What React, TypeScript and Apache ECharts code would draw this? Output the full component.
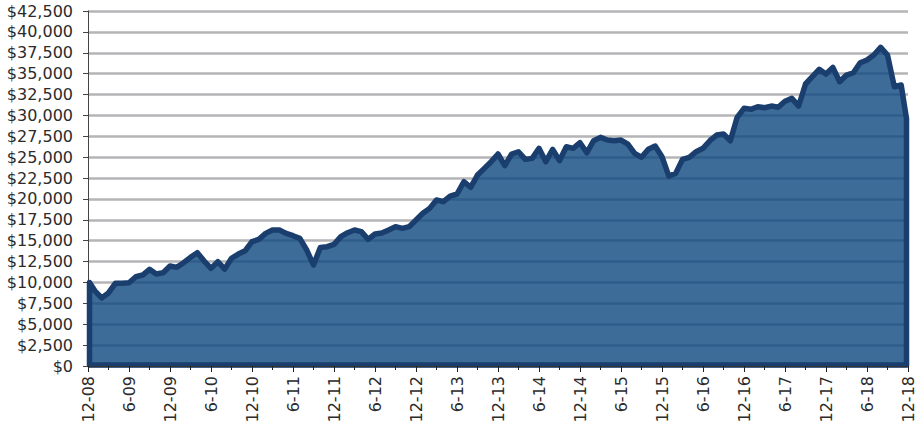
import React, { useEffect, useRef } from "react";
import * as echarts from "echarts";

// Month categories 12-08 .. 12-18
const months: string[] = [];
for (let y = 2008; y <= 2018; y++) {
  for (let m = 1; m <= 12; m++) {
    if (y === 2008 && m < 12) continue;
    months.push(`${m}-${String(y % 100).padStart(2, "0")}`);
  }
}

const growthValues: number[] = [
  10000, 9000, 8150, 8750, 9900, 9900, 9970, 10690, 10890, 11570, 11010, 11170,
  11970, 11810, 12370, 13010, 13560, 12570, 11690, 12490, 11600, 12900, 13400, 13800,
  14880, 15160, 15880, 16280, 16280, 15880, 15600, 15280, 13890, 12100, 14200, 14280,
  14560, 15480, 15960, 16280, 16080, 15160, 15800, 15920, 16280, 16680, 16480, 16680,
  17480, 18280, 18870, 19870, 19670, 20350, 20590, 22060, 21390, 22860, 23660, 24460,
  25380, 24000, 25380, 25650, 24740, 24860, 26060, 24460, 25940, 24580, 26250, 26060,
  26730, 25530, 26970, 27370, 27050, 26970, 27050, 26570, 25460, 24980, 25950, 26330,
  25050, 22740, 23060, 24740, 24980, 25650, 26060, 26970, 27650, 27770, 26970, 29770,
  30850, 30730, 31040, 30920, 31120, 30970, 31700, 32040, 31120, 33760, 34630, 35510,
  34950, 35750, 34030, 34830, 35110, 36300, 36630, 37230, 38150, 37230, 33430, 33640,
  29600,
];

const yMin = 0;
const yMax = 42500;
const yStep = 2500;

const FONT = "DejaVu Sans";

export default function App() {
  const ref = useRef<HTMLDivElement>(null);
  useEffect(() => {
    if (!ref.current) return;
    const chart = echarts.init(ref.current, undefined, { renderer: "svg" });
    const option: any = {
      animation: false,
      backgroundColor: "#ffffff",
      grid: { left: 88, right: 3, top: 11, bottom: 62, containLabel: false },
      xAxis: [
        {
          type: "category",
          data: months,
          boundaryGap: false,
          position: "bottom",
          z: 6,
          axisLine: { show: true, lineStyle: { color: "#333333", width: 1 } },
          axisTick: {
            show: true,
            interval: (i: number) => i % 6 === 0,
            length: 6,
            lineStyle: { color: "#222222", width: 1 },
          },
          axisLabel: {
            interval: (i: number) => i % 6 === 0,
            rotate: 90,
            margin: 10,
            fontFamily: FONT,
            fontSize: 16,
            color: "#2b2b2b",
          },
          splitLine: { show: false },
        },
        {
          type: "category",
          data: months,
          boundaryGap: false,
          position: "bottom",
          z: 6,
          axisLine: { show: false },
          axisTick: {
            show: true,
            interval: (i: number) => i % 3 === 0 && i % 6 !== 0,
            length: 4,
            lineStyle: { color: "#222222", width: 1 },
          },
          axisLabel: { show: false },
          splitLine: { show: false },
        },
      ],
      yAxis: [
        {
          type: "value",
          min: yMin,
          max: yMax,
          interval: yStep,
          position: "left",
          axisLine: { show: true, lineStyle: { color: "#444444", width: 1 } },
          axisTick: { show: true, length: 5, lineStyle: { color: "#444444" } },
          axisLabel: {
            margin: 15,
            fontFamily: FONT,
            fontSize: 16,
            color: "#2b2b2b",
            formatter: (v: number) => "$" + v.toLocaleString("en-US"),
          },
          splitLine: { show: true, lineStyle: { color: "#b5b5b8", width: 2.5 } },
        },
      ],
      series: [
        {
          type: "custom",
          xAxisIndex: 0,
          yAxisIndex: 0,
          z: 3,
          data: [[0, 0]],
          renderItem: (params: any, api: any) => {
            const pts: number[][] = growthValues.map((v, i) => api.coord([i, v]));
            const base0 = api.coord([0, yMin]);
            const baseN = api.coord([growthValues.length - 1, yMin]);
            const inset = 1.5;
            pts[0] = [pts[0][0] + inset, pts[0][1]];
            pts[pts.length - 1] = [pts[pts.length - 1][0] - inset, pts[pts.length - 1][1]];
            const poly = [
              [base0[0] + inset, base0[1] - 1],
              ...pts,
              [baseN[0] - inset, baseN[1] - 1],
            ];
            return {
              type: "polygon",
              shape: { points: poly },
              style: {
                fill: "rgba(12,71,128,0.8)",
                stroke: "#1a3f6f",
                lineWidth: 5.5,
                lineJoin: "round",
              },
            };
          },
        },
      ],
    };
    chart.setOption(option);
    return () => chart.dispose();
  }, []);
  return (
    <div
      ref={ref}
      style={{ position: "fixed", left: 0, top: 0, width: 916, height: 428 }}
    />
  );
}
